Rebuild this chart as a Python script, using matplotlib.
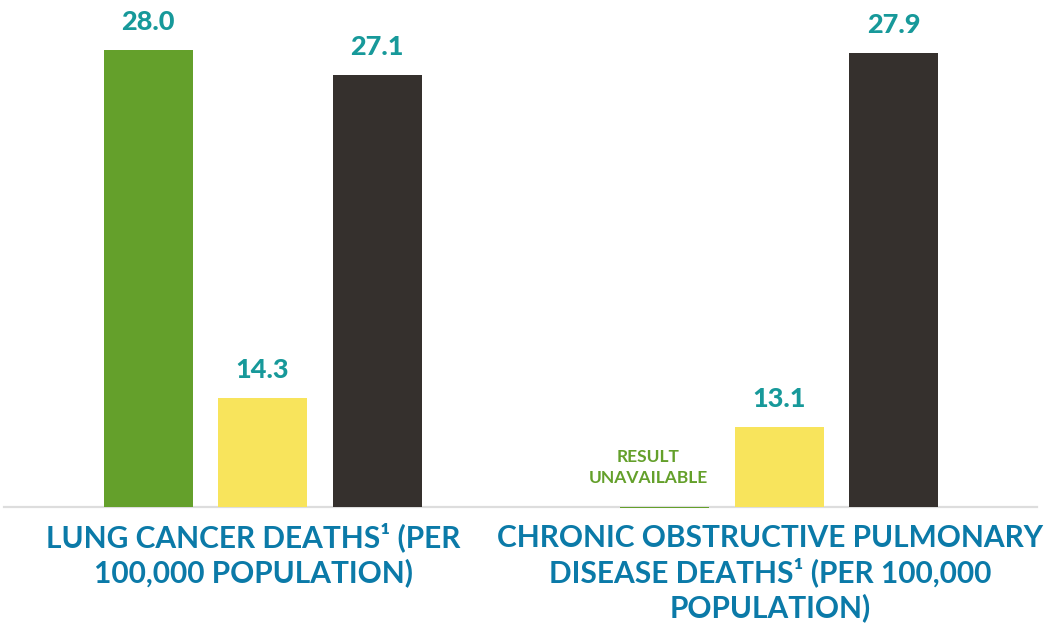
import matplotlib
matplotlib.use("Agg")
import matplotlib.pyplot as plt

categories = [["LUNG CANCER DEATHS¹ (PER", "100,000 POPULATION)"],
              ["CHRONIC OBSTRUCTIVE PULMONARY", "DISEASE DEATHS¹ (PER 100,000", "POPULATION)"]]
# drawn bar heights and the printed value labels
green_heights = [28.0, -0.1]
yellow_heights = [6.65, 4.85]
dark_heights = [26.5, 27.85]
green_labels = ["28.0", None]
yellow_labels = ["14.3", "13.1"]
dark_labels = ["27.1", "27.9"]
unavailable_lines = ["RESULT", "UNAVAILABLE"]

W, H = 1047, 624
fig = plt.figure(figsize=(W / 100, H / 100), dpi=100)
px_per_unit = 16.3
base_px = 506.5  # baseline from top
ybot = -0.3
bottom_frac = (H - base_px + ybot * px_per_unit) / H
ax = fig.add_axes([0, bottom_frac, 1, 1 - bottom_frac])
ytop = base_px / px_per_unit
ax.set_ylim(ybot, ytop)
grp_px = 516.5
ax.set_xlim(-262.5 / grp_px, (W - 262.5) / grp_px)
ax.axis("off")

off = 114.5 / grp_px
bw = 89 / grp_px
green = "#64a02b"
yellow = "#f8e45c"
dark = "#35302d"
teal = "#17999a"
blue = "#0b7aa8"

ax.axhline(0, xmin=4 / W, xmax=1037 / W, color="#dddddd", lw=1.6, zorder=1)

x = [0, 1]
series = [(green_heights, green, green_labels, -off),
          (yellow_heights, yellow, yellow_labels, 0),
          (dark_heights, dark, dark_labels, off)]
for heights, col, labels, o in series:
    xs = [xi + o for xi in x]
    ax.bar(xs, heights, width=bw, color=col, zorder=2 if col != green else 3)
    for xi, h, lab in zip(xs, heights, labels):
        if lab is None:
            continue
        ax.annotate(lab, (xi, h), xytext=(0, 14.4), textcoords="offset points",
                    ha="center", va="baseline", color=teal, fontsize=19.5,
                    fontweight=900, family="Lato")

for i, line in enumerate(unavailable_lines):
    fig.text(648 / W, (H - 462 - 21 * i) / H, line, ha="center", va="baseline",
             color=green, fontsize=12.5, fontweight="bold", family="Lato")

for lines, cx in zip(categories, [253.5, 770]):
    for i, line in enumerate(lines):
        fig.text(cx / W, (H - 547 - 35 * i) / H, line, ha="center",
                 va="baseline", color=blue, fontsize=21.5, fontweight="bold",
                 family="Lato")

fig.savefig("out.png", dpi=100)
